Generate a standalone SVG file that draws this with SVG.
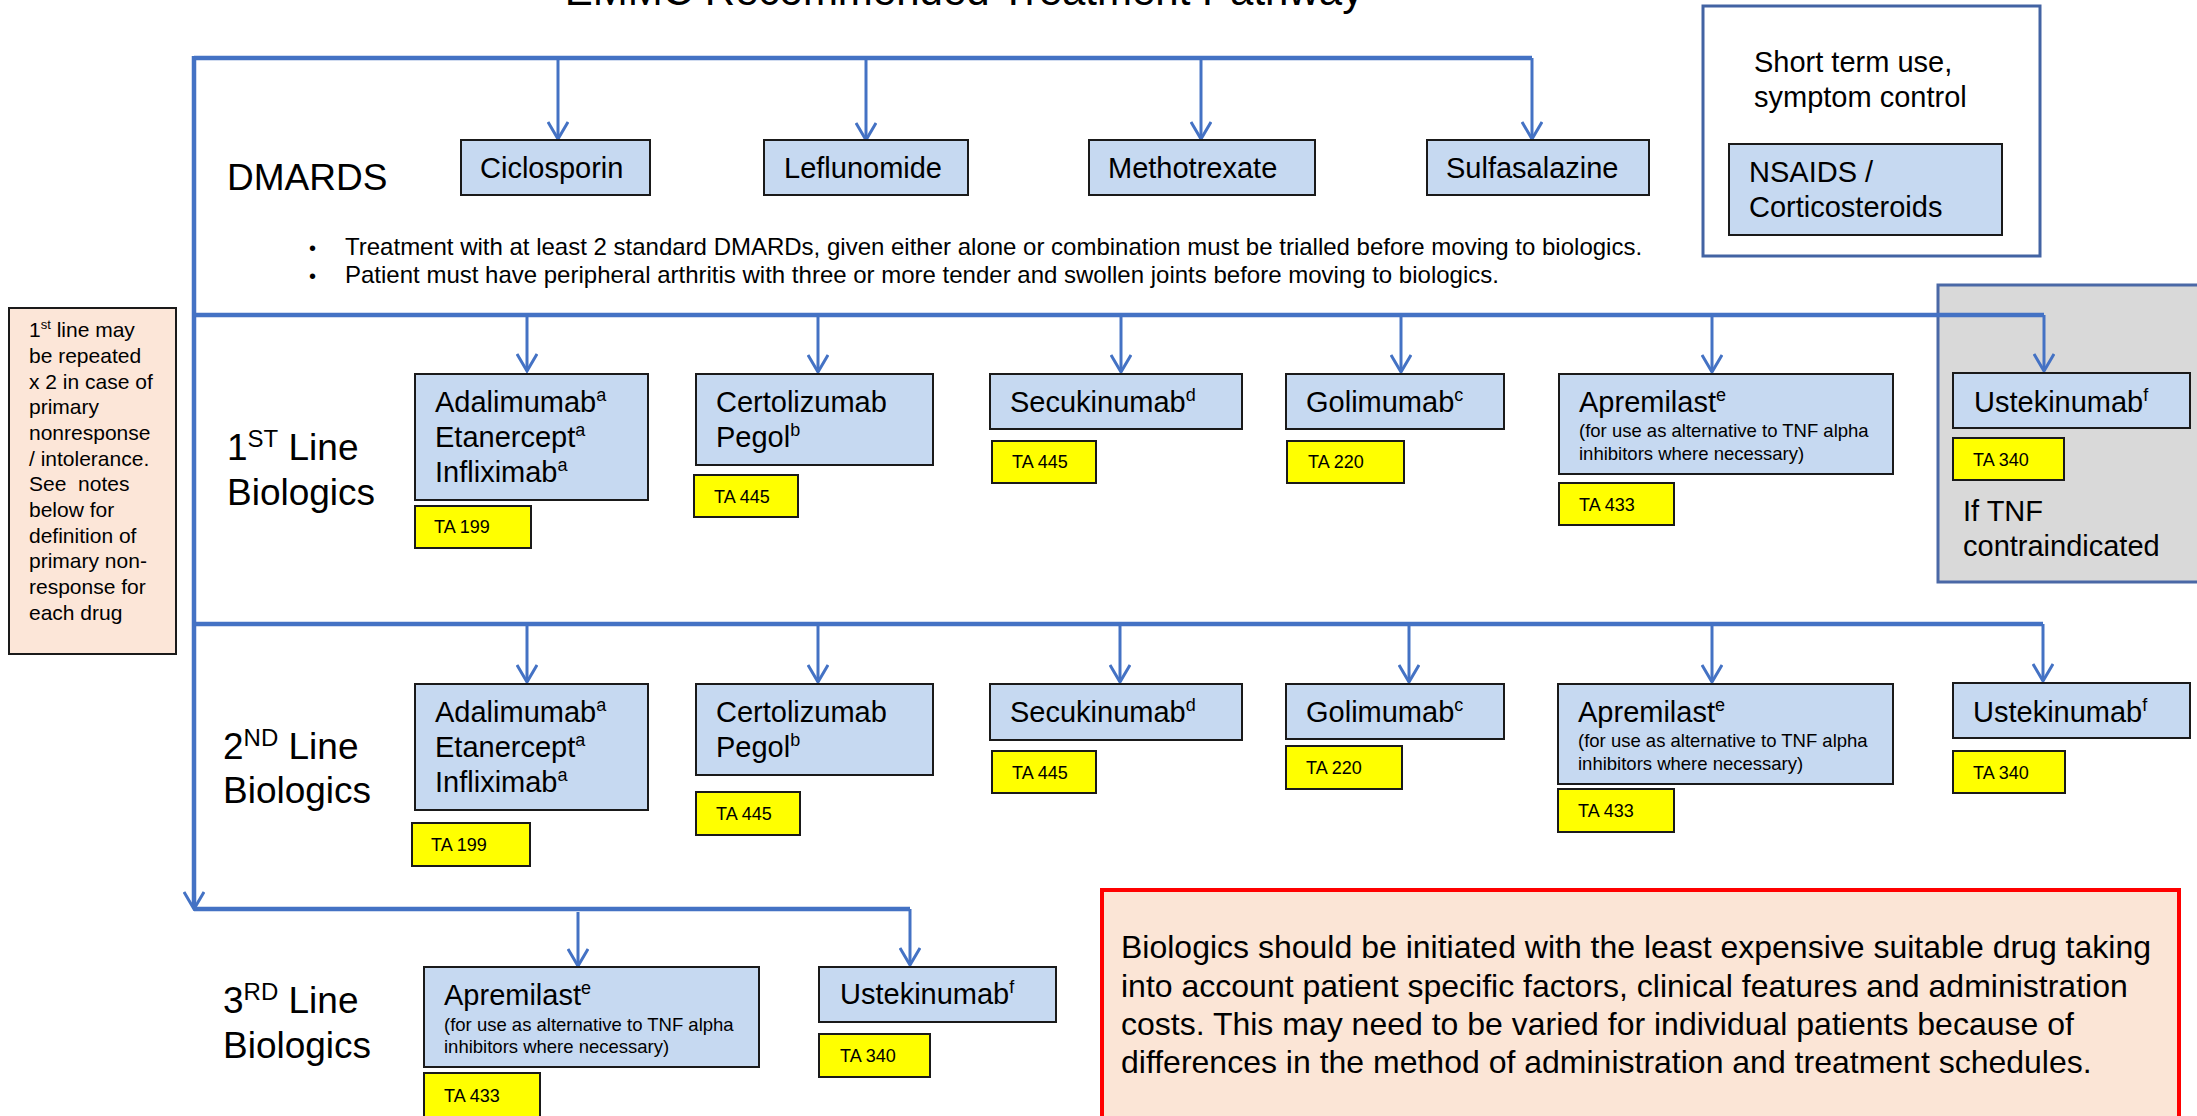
<svg xmlns="http://www.w3.org/2000/svg" width="2197" height="1116" viewBox="0 0 2197 1116">
<defs>
<marker id="arr" viewBox="0 0 20 22" refX="18" refY="11" markerWidth="20" markerHeight="22" markerUnits="userSpaceOnUse" orient="auto">
<path d="M1,1 L18,11 L1,21" fill="none" stroke="#4472c4" stroke-width="3"/>
</marker>
<style>
text{font-family:"Liberation Sans",Arial,sans-serif;fill:#000}
.t{font-size:29px}
.sub{font-size:18.5px}
.ta{font-size:18px}
.lbl{font-size:37px}
.drug{fill:#c6d9f1;stroke:#1a1a1a;stroke-width:2}
.tab{fill:#ffff00;stroke:#1a1a1a;stroke-width:2}
.bus{fill:none;stroke:#4472c4;stroke-width:4.5}
.drop{fill:none;stroke:#4472c4;stroke-width:3;marker-end:url(#arr)}
</style>
</defs>
<rect width="2197" height="1116" fill="#fff"/>

<g id="title"><text x="964" y="5" font-size="42" text-anchor="middle">EMMC Recommended Treatment Pathway</text></g>

<g id="tnf-panel"><rect x="1938" y="285" width="280" height="297" fill="#d9d9d9" stroke="#4a68a6" stroke-width="3"/>
<text class="t" x="1963" y="521">If TNF</text><text class="t" x="1963" y="556">contraindicated</text></g>

<g id="connectors">
<path class="bus" d="M194,56 V905"/>
<path class="drop" d="M194,880 V909"/>
<path class="bus" d="M194,58 H1532"/>
<path class="drop" d="M558,58 V139"/>
<path class="drop" d="M866,58 V140"/>
<path class="drop" d="M1201,58 V139"/>
<path class="drop" d="M1532,58 V139"/>
<path class="bus" d="M194,315 H2044"/>
<path class="drop" d="M2044,315 V371"/>
<path class="drop" d="M527,315 V371"/>
<path class="drop" d="M818,315 V372"/>
<path class="drop" d="M1121,315 V372"/>
<path class="drop" d="M1401,315 V372"/>
<path class="drop" d="M1712,315 V372"/>
<path class="bus" d="M194,624 H2043"/>
<path class="drop" d="M2043,624 V681"/>
<path class="drop" d="M527,624 V682"/>
<path class="drop" d="M818,624 V682"/>
<path class="drop" d="M1120,624 V682"/>
<path class="drop" d="M1409,624 V682"/>
<path class="drop" d="M1712,624 V682"/>
<path class="bus" d="M194,909 H910"/>
<path class="drop" d="M910,909 V965"/>
<path class="drop" d="M578,912 V966"/>
</g>

<g id="dmards-label"><text class="lbl" x="227" y="190">DMARDS</text></g>
<g id="ciclosporin"><rect class="drug" x="461" y="140" width="189" height="55"/><text class="t" x="480" y="178">Ciclosporin</text></g>
<g id="leflunomide"><rect class="drug" x="764" y="140" width="204" height="55"/><text class="t" x="784" y="178">Leflunomide</text></g>
<g id="methotrexate"><rect class="drug" x="1089" y="140" width="226" height="55"/><text class="t" x="1108" y="178">Methotrexate</text></g>
<g id="sulfasalazine"><rect class="drug" x="1427" y="140" width="222" height="55"/><text class="t" x="1446" y="178">Sulfasalazine</text></g>

<g id="dmards-notes" font-size="24">
<text x="309" y="255" font-size="20">•</text><text x="345" y="255" font-size="24">Treatment with at least 2 standard DMARDs, given either alone or combination must be trialled before moving to biologics.</text>
<text x="309" y="283" font-size="20">•</text><text x="345" y="283" font-size="24">Patient must have peripheral arthritis with three or more tender and swollen joints before moving to biologics.</text>
</g>

<g id="short-term"><rect x="1703" y="6" width="337" height="250" fill="#fff" stroke="#4263a3" stroke-width="3"/>
<text class="t" x="1754" y="72">Short term use,</text><text class="t" x="1754" y="107">symptom control</text></g>
<g id="nsaids"><rect class="drug" x="1729" y="144" width="273" height="91"/>
<text class="t" x="1749" y="182">NSAIDS /</text><text class="t" x="1749" y="217">Corticosteroids</text></g>

<g id="note"><rect x="9" y="308" width="167" height="346" fill="#fce6d8" stroke="#1a1a1a" stroke-width="2"/>
<g font-size="21">
<text x="29" y="337">1<tspan font-size="13" dy="-8">st</tspan><tspan dy="8"> line may</tspan></text>
<text x="29" y="363">be repeated</text>
<text x="29" y="389">x 2 in case of</text>
<text x="29" y="414">primary</text>
<text x="29" y="440">nonresponse</text>
<text x="29" y="466">/ intolerance.</text>
<text x="29" y="491" xml:space="preserve">See  notes</text>
<text x="29" y="517">below for</text>
<text x="29" y="543">definition of</text>
<text x="29" y="568">primary non-</text>
<text x="29" y="594">response for</text>
<text x="29" y="620">each drug</text>
</g></g>

<g id="line1-label"><text class="lbl" x="227" y="460">1<tspan font-size="24" dy="-13">ST</tspan><tspan dy="13"> Line</tspan></text><text class="lbl" x="227" y="505">Biologics</text></g>
<g id="l1-tnf"><rect class="drug" x="415" y="374" width="233" height="126"/>
<text class="t" x="435" y="412">Adalimumab<tspan font-size="18" dy="-11">a</tspan></text>
<text class="t" x="435" y="447">Etanercept<tspan font-size="18" dy="-11">a</tspan></text>
<text class="t" x="435" y="482">Infliximab<tspan font-size="18" dy="-11">a</tspan></text></g>
<g id="l1-ta199"><rect class="tab" x="415" y="506" width="116" height="42"/><text class="ta" x="434" y="533">TA 199</text></g>
<g id="l1-certolizumab"><rect class="drug" x="696" y="374" width="237" height="91"/>
<text class="t" x="716" y="412">Certolizumab</text><text class="t" x="716" y="447">Pegol<tspan font-size="18" dy="-11">b</tspan></text></g>
<g id="l1-ta445a"><rect class="tab" x="694" y="475" width="104" height="42"/><text class="ta" x="714" y="503">TA 445</text></g>
<g id="l1-secukinumab"><rect class="drug" x="990" y="374" width="252" height="55"/><text class="t" x="1010" y="412">Secukinumab<tspan font-size="18" dy="-11">d</tspan></text></g>
<g id="l1-ta445b"><rect class="tab" x="992" y="441" width="104" height="42"/><text class="ta" x="1012" y="468">TA 445</text></g>
<g id="l1-golimumab"><rect class="drug" x="1286" y="374" width="218" height="55"/><text class="t" x="1306" y="412">Golimumab<tspan font-size="18" dy="-11">c</tspan></text></g>
<g id="l1-ta220"><rect class="tab" x="1287" y="441" width="117" height="42"/><text class="ta" x="1308" y="468">TA 220</text></g>
<g id="l1-apremilast"><rect class="drug" x="1559" y="374" width="334" height="100"/>
<text class="t" x="1579" y="412">Apremilast<tspan font-size="18" dy="-11">e</tspan></text>
<text class="sub" x="1579" y="437">(for use as alternative to TNF alpha</text>
<text class="sub" x="1579" y="460">inhibitors where necessary)</text></g>
<g id="l1-ta433"><rect class="tab" x="1559" y="483" width="115" height="42"/><text class="ta" x="1579" y="511">TA 433</text></g>
<g id="l1-ustekinumab"><rect class="drug" x="1953" y="373" width="237" height="55"/><text class="t" x="1974" y="412">Ustekinumab<tspan font-size="18" dy="-11">f</tspan></text></g>
<g id="l1-ta340"><rect class="tab" x="1953" y="438" width="111" height="42"/><text class="ta" x="1973" y="466">TA 340</text></g>

<g id="line2-label"><text class="lbl" x="223" y="759">2<tspan font-size="24" dy="-13">ND</tspan><tspan dy="13"> Line</tspan></text><text class="lbl" x="223" y="803">Biologics</text></g>
<g id="l2-tnf"><rect class="drug" x="415" y="684" width="233" height="126"/>
<text class="t" x="435" y="722">Adalimumab<tspan font-size="18" dy="-11">a</tspan></text>
<text class="t" x="435" y="757">Etanercept<tspan font-size="18" dy="-11">a</tspan></text>
<text class="t" x="435" y="792">Infliximab<tspan font-size="18" dy="-11">a</tspan></text></g>
<g id="l2-ta199"><rect class="tab" x="412" y="823" width="118" height="43"/><text class="ta" x="431" y="851">TA 199</text></g>
<g id="l2-certolizumab"><rect class="drug" x="696" y="684" width="237" height="91"/>
<text class="t" x="716" y="722">Certolizumab</text><text class="t" x="716" y="757">Pegol<tspan font-size="18" dy="-11">b</tspan></text></g>
<g id="l2-ta445a"><rect class="tab" x="696" y="792" width="104" height="43"/><text class="ta" x="716" y="820">TA 445</text></g>
<g id="l2-secukinumab"><rect class="drug" x="990" y="684" width="252" height="56"/><text class="t" x="1010" y="722">Secukinumab<tspan font-size="18" dy="-11">d</tspan></text></g>
<g id="l2-ta445b"><rect class="tab" x="992" y="751" width="104" height="42"/><text class="ta" x="1012" y="779">TA 445</text></g>
<g id="l2-golimumab"><rect class="drug" x="1286" y="684" width="218" height="55"/><text class="t" x="1306" y="722">Golimumab<tspan font-size="18" dy="-11">c</tspan></text></g>
<g id="l2-ta220"><rect class="tab" x="1286" y="746" width="116" height="43"/><text class="ta" x="1306" y="774">TA 220</text></g>
<g id="l2-apremilast"><rect class="drug" x="1558" y="684" width="335" height="100"/>
<text class="t" x="1578" y="722">Apremilast<tspan font-size="18" dy="-11">e</tspan></text>
<text class="sub" x="1578" y="747">(for use as alternative to TNF alpha</text>
<text class="sub" x="1578" y="770">inhibitors where necessary)</text></g>
<g id="l2-ta433"><rect class="tab" x="1558" y="789" width="116" height="43"/><text class="ta" x="1578" y="817">TA 433</text></g>
<g id="l2-ustekinumab"><rect class="drug" x="1953" y="683" width="237" height="55"/><text class="t" x="1973" y="722">Ustekinumab<tspan font-size="18" dy="-11">f</tspan></text></g>
<g id="l2-ta340"><rect class="tab" x="1953" y="751" width="112" height="42"/><text class="ta" x="1973" y="779">TA 340</text></g>

<g id="line3-label"><text class="lbl" x="223" y="1013">3<tspan font-size="24" dy="-13">RD</tspan><tspan dy="13"> Line</tspan></text><text class="lbl" x="223" y="1058">Biologics</text></g>
<g id="l3-apremilast"><rect class="drug" x="424" y="967" width="335" height="100"/>
<text class="t" x="444" y="1005">Apremilast<tspan font-size="18" dy="-11">e</tspan></text>
<text class="sub" x="444" y="1031">(for use as alternative to TNF alpha</text>
<text class="sub" x="444" y="1053">inhibitors where necessary)</text></g>
<g id="l3-ta433"><rect class="tab" x="424" y="1073" width="116" height="44"/><text class="ta" x="444" y="1102">TA 433</text></g>
<g id="l3-ustekinumab"><rect class="drug" x="819" y="967" width="237" height="55"/><text class="t" x="840" y="1004">Ustekinumab<tspan font-size="18" dy="-11">f</tspan></text></g>
<g id="l3-ta340"><rect class="tab" x="819" y="1034" width="111" height="43"/><text class="ta" x="840" y="1062">TA 340</text></g>

<g id="cost-note"><rect x="1102" y="890" width="1077" height="240" fill="#fbe5d6" stroke="#ff0000" stroke-width="4"/>
<g font-size="32">
<text x="1121" y="958">Biologics should be initiated with the least expensive suitable drug taking</text>
<text x="1121" y="997">into account patient specific factors, clinical features and administration</text>
<text x="1121" y="1035">costs. This may need to be varied for individual patients because of</text>
<text x="1121" y="1073">differences in the method of administration and treatment schedules.</text>
</g></g>
</svg>
